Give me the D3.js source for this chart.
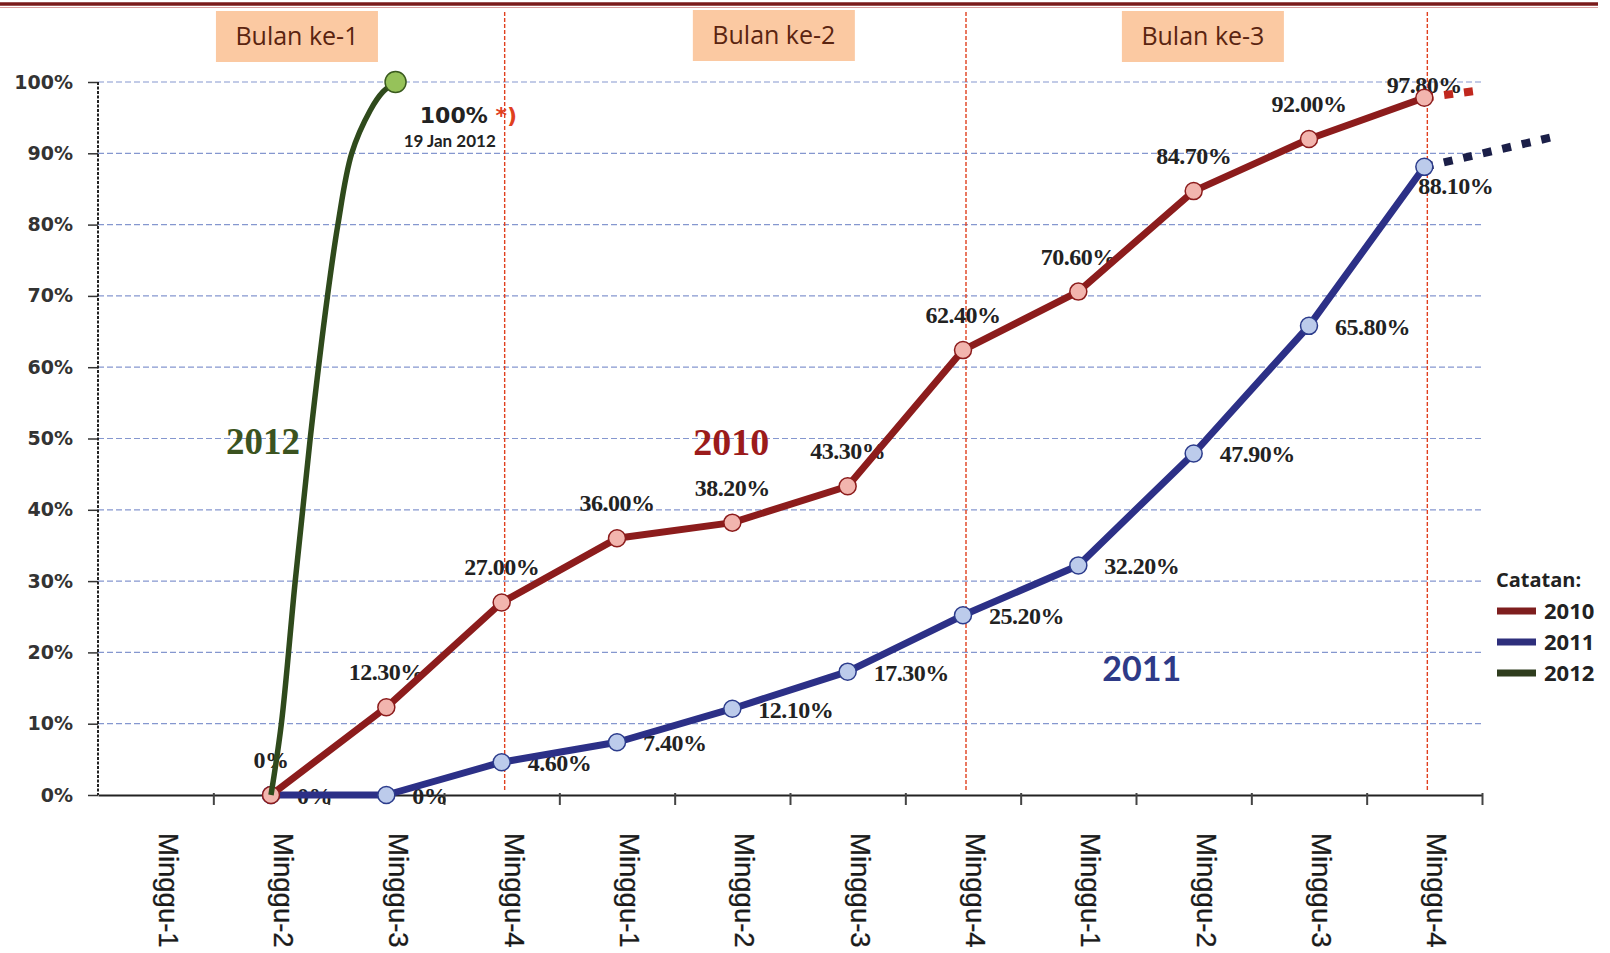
<!DOCTYPE html>
<html>
<head>
<meta charset="utf-8">
<script src="https://cdn.jsdelivr.net/npm/d3@7"></script>
<style>
  body { margin: 0; background: #fff; }
  svg { display: block; }
</style>
</head>
<body>
<div id="chart"></div>
<script>
// data
const weekLabels = ["Minggu-1","Minggu-2","Minggu-3","Minggu-4",
                    "Minggu-1","Minggu-2","Minggu-3","Minggu-4",
                    "Minggu-1","Minggu-2","Minggu-3","Minggu-4"];
const monthLabels = ["Bulan ke-1","Bulan ke-2","Bulan ke-3"];
const yTicks = [0,10,20,30,40,50,60,70,80,90,100];

// percent per week, null = no data yet
const values2010 = [null, 0, 12.3, 27.0, 36.0, 38.2, 43.3, 62.4, 70.6, 84.7, 92.0, 97.8];
const values2011 = [null, 0, 0, 4.6, 7.4, 12.1, 17.3, 25.2, 32.2, 47.9, 65.8, 88.1];
// 2012 reached 100% within a few days (week index, percent)
const curve2012 = [[1,0],[1.09,10],[1.21,30],[1.34,50],[1.49,70],[1.58,80],[1.70,90],[1.86,96],[1.97,98.6],[2.08,100]];
// dotted trend continuations
const trend2010 = [[11,97.8],[11.47,98.8]];
const trend2011 = [[11,88.1],[12.12,92.3]];
const legendYears = ["2010","2011","2012"];

const width = 1610, height = 953;
const colors = {
	"2010": {line:"#8c1c1c", fill:"#f2b5ae", stroke:"#8c1c1c", trend:"#c0281e", legend:"#7e1e1e", label:"#9b1b1b"},
	"2011": {line:"#2c3087", fill:"#bccbeb", stroke:"#2c3c8c", trend:"#1b1f48", legend:"#2e2f7c", label:"#2e3a87"},
	"2012": {line:"#2f4a1c", fill:"#96c25a", stroke:"#3a5a1e", legend:"#2f3d1e", label:"#3b5320"}
};

const svg = d3.select("#chart").append("svg")
	.attr("width", width).attr("height", height);

// scales: x in week index units, y in percent
const x = d3.scaleLinear().domain([-0.5, 11.5]).range([98, 1482]);
const y = d3.scaleLinear().domain([0, 100]).range([795, 82]);

// top border
svg.append("line").attr("x1",0).attr("x2",1598).attr("y1",4).attr("y2",4)
	.attr("stroke","#7a1a1a").attr("stroke-width",3.5);
svg.append("line").attr("x1",0).attr("x2",1598).attr("y1",7.5).attr("y2",7.5)
	.attr("stroke","#d9a0a0").attr("stroke-width",1);

// gridlines
svg.append("g").selectAll("line").data(yTicks.filter(d=>d>0)).join("line")
	.attr("x1", x(-0.5)).attr("x2", x(11.5))
	.attr("y1", d=>y(d)).attr("y2", d=>y(d))
	.attr("stroke","#8597cf").attr("stroke-width",1.2)
	.attr("stroke-dasharray","6,3");

// month dividers at the last week of each month
const lastWeeks = weekLabels.map((d,i)=>i).filter(i=>i%4===3);
svg.append("g").selectAll("line").data(lastWeeks).join("line")
	.attr("x1", d=>x(d)+3).attr("x2", d=>x(d)+3)
	.attr("y1", 12).attr("y2", 790)
	.attr("stroke","#e0401e").attr("stroke-width",1.4)
	.attr("stroke-dasharray","4,2");

// month boxes
const monthBoxAt = [1.225, 5.36, 9.08];
const boxes = svg.append("g").selectAll("g").data(monthLabels).join("g")
	.attr("transform",(d,i)=>`translate(${x(monthBoxAt[i])},${i===1?10:11})`);
boxes.append("rect").attr("x",-81).attr("y",0).attr("width",162).attr("height",51)
	.attr("fill","#fbc9a2");
boxes.append("text").attr("x",0).attr("y",34).attr("text-anchor","middle")
	.attr("font-family","'Open Sans', Lato, sans-serif").attr("font-size",25)
	.attr("fill","#5a2410").text(d=>d);

// y axis
const yAxis = svg.append("g").attr("transform",`translate(${x(-0.5)},0)`)
	.call(d3.axisLeft(y).tickValues(yTicks).tickFormat(d=>d+"%").tickSize(10).tickPadding(15));
yAxis.select(".domain").remove();
yAxis.selectAll(".tick line").attr("stroke","#333").attr("stroke-width",1.5);
yAxis.selectAll(".tick text").attr("font-family","'DejaVu Sans', sans-serif")
	.attr("font-weight","bold").attr("font-size",19).attr("fill","#333");
svg.append("line").attr("x1",x(-0.5)).attr("x2",x(-0.5)).attr("y1",y(100)).attr("y2",y(0))
	.attr("stroke","#222").attr("stroke-width",2).attr("stroke-dasharray","3,1.5");

// x axis: tick marks on week boundaries, labels rotated
const xAxis = svg.append("g").attr("transform",`translate(0,${y(0)})`)
	.call(d3.axisBottom(x).tickValues(d3.range(0.5, 12, 1)).tickFormat("").tickSizeInner(10).tickSizeOuter(0));
xAxis.select(".domain").attr("stroke","#222").attr("stroke-width",2.2);
xAxis.selectAll(".tick line").attr("stroke","#444").attr("stroke-width",2).attr("y1",-2);
svg.append("g").selectAll("text").data(weekLabels).join("text")
	.attr("transform",(d,i)=>`translate(${x(i)+3},833) rotate(90)`)
	.attr("font-family","'Liberation Sans', Arial, sans-serif").attr("font-size",27.5)
	.attr("fill","#1a1a1a").attr("stroke","#1a1a1a").attr("stroke-width",0.3).text(d=>d);

const fmt = v => v === 0 ? "0%" : d3.format(".2f")(v) + "%";
const labelFont = "'Liberation Serif', 'Times New Roman', serif";

// data labels (drawn under the lines, as in the picture)
const pts2010 = values2010.map((v,i)=>({i,v})).filter(d=>d.v!==null);
const pts2011 = values2011.map((v,i)=>({i,v})).filter(d=>d.v!==null);
svg.append("g").selectAll("text").data(pts2010).join("text")
	.attr("x", d=>x(d.i)).attr("y", (d,k)=> y(d.v) - (k===pts2010.length-1 ? 5 : 27))
	.attr("text-anchor","middle").attr("font-family",labelFont).attr("font-weight","bold")
	.attr("font-size",24).attr("letter-spacing",-0.5).attr("fill","#222").text(d=>fmt(d.v));
svg.append("g").selectAll("text").data(pts2011).join("text")
	.attr("x", (d,k)=> k===pts2011.length-1 ? x(d.i)-6 : x(d.i)+26)
	.attr("y", (d,k)=> k===pts2011.length-1 ? y(d.v)+27 : y(d.v)+9)
	.attr("font-family",labelFont).attr("font-weight","bold")
	.attr("font-size",24).attr("letter-spacing",-0.5).attr("fill","#222").text(d=>fmt(d.v));

// lines
const line = d3.line().x(d=>x(d.i)).y(d=>y(d.v));
const freeLine = d3.line().x(d=>x(d[0])).y(d=>y(d[1]));

svg.append("path").datum(trend2011).attr("d",freeLine).attr("fill","none")
	.attr("stroke",colors["2011"].trend).attr("stroke-width",8).attr("stroke-dasharray","9,11");
svg.append("path").datum(trend2010).attr("d",freeLine).attr("fill","none")
	.attr("stroke",colors["2010"].trend).attr("stroke-width",8).attr("stroke-dasharray","9,11");

svg.append("path").datum(pts2011).attr("d",line).attr("fill","none")
	.attr("stroke",colors["2011"].line).attr("stroke-width",7).attr("stroke-linejoin","round");
svg.append("g").selectAll("circle").data(pts2011).join("circle")
	.attr("cx",d=>x(d.i)).attr("cy",d=>y(d.v)).attr("r",8.5)
	.attr("fill",colors["2011"].fill).attr("stroke",colors["2011"].stroke).attr("stroke-width",1.5);

svg.append("path").datum(pts2010).attr("d",line).attr("fill","none")
	.attr("stroke",colors["2010"].line).attr("stroke-width",7).attr("stroke-linejoin","round");
svg.append("g").selectAll("circle").data(pts2010).join("circle")
	.attr("cx",d=>x(d.i)).attr("cy",d=>y(d.v)).attr("r",8.5)
	.attr("fill",colors["2010"].fill).attr("stroke",colors["2010"].stroke).attr("stroke-width",1.5);

svg.append("path").datum(curve2012).attr("d",freeLine.curve(d3.curveCatmullRom)).attr("fill","none")
	.attr("stroke",colors["2012"].line).attr("stroke-width",5.5);
const end2012 = curve2012[curve2012.length-1];
svg.append("circle").attr("cx",x(end2012[0])).attr("cy",y(end2012[1])).attr("r",10.5)
	.attr("fill",colors["2012"].fill).attr("stroke",colors["2012"].stroke).attr("stroke-width",1.5);

// 2012 annotation
const note = svg.append("text").attr("x",x(2.29)).attr("y",y(94.2))
	.attr("font-family","'DejaVu Sans', sans-serif").attr("font-weight","bold").attr("font-size",22);
note.append("tspan").attr("fill","#222").text("100% ");
note.append("tspan").attr("fill","#e0401e").text("*)");
svg.append("text").attr("x",x(2.15)).attr("y",y(90.9))
	.attr("font-family","Lato, sans-serif").attr("font-weight","bold").attr("font-size",17)
	.attr("fill","#222").text("19 Jan 2012");

// big year labels
svg.append("text").attr("x",x(4.99)).attr("y",y(47.7)).attr("text-anchor","middle")
	.attr("font-family",labelFont).attr("font-weight","bold").attr("font-size",38)
	.attr("fill",colors["2010"].label).text("2010");
svg.append("text").attr("x",x(8.55)).attr("y",y(16)).attr("text-anchor","middle")
	.attr("font-family","Lato, 'Open Sans', sans-serif").attr("font-weight","bold").attr("font-size",34)
	.attr("fill",colors["2011"].label).text("2011");
svg.append("text").attr("x",x(0.93)).attr("y",y(47.8)).attr("text-anchor","middle")
	.attr("font-family",labelFont).attr("font-weight","bold").attr("font-size",37)
	.attr("fill",colors["2012"].label).text("2012");

// legend
const legend = svg.append("g").attr("transform","translate(1496,587)");
legend.append("text").attr("x",0).attr("y",0)
	.attr("font-family","'Open Sans', sans-serif").attr("font-weight","bold").attr("font-size",20)
	.attr("fill","#222").text("Catatan:");
const items = legend.selectAll("g.item").data(legendYears).join("g")
	.attr("class","item").attr("transform",(d,i)=>`translate(0,${24+i*31})`);
items.append("rect").attr("x",1).attr("y",-3.5).attr("width",39).attr("height",7)
	.attr("fill",d=>colors[d].legend);
items.append("text").attr("x",48).attr("y",8)
	.attr("font-family","'Open Sans', sans-serif").attr("font-weight","bold").attr("font-size",22)
	.attr("fill","#222").text(d=>d);
</script>
</body>
</html>
